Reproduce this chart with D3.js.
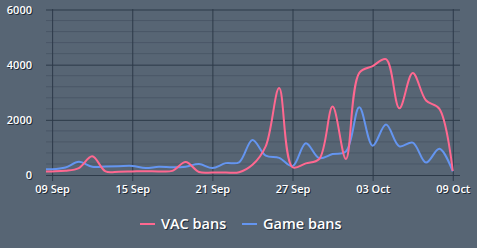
<!DOCTYPE html>
<html>
<head>
<meta charset="utf-8">
<script src="https://cdn.jsdelivr.net/npm/d3@7"></script>
<style>
  body { margin: 0; background: #576574; }
  text { font-family: "Open Sans", sans-serif; fill: #fff; text-shadow: 1px 1px 0 #1f2a36; }
</style>
</head>
<body>
<div id="chart-area"></div>
<script>
// daily values, first day is clipped at the left edge
var days = ["2023-09-08","2023-09-09","2023-09-10","2023-09-11","2023-09-12","2023-09-13","2023-09-14",
  "2023-09-15","2023-09-16","2023-09-17","2023-09-18","2023-09-19","2023-09-20","2023-09-21",
  "2023-09-22","2023-09-23","2023-09-24","2023-09-25","2023-09-26","2023-09-27","2023-09-28",
  "2023-09-29","2023-09-30","2023-10-01","2023-10-02","2023-10-03","2023-10-04","2023-10-05",
  "2023-10-06","2023-10-07","2023-10-08","2023-10-09"]
var vacBans = [130, 130, 150, 250, 680, 130, 120, 130, 140, 130, 150, 470, 110, 90, 90, 100,
  370, 1050, 3150, 280, 420, 580, 2480, 580, 3700, 3950, 4200, 2420, 3700, 2700, 2400, 150]
var gameBans = [230, 210, 270, 480, 300, 310, 320, 330, 250, 300, 280, 300, 400, 250, 430, 460,
  1270, 700, 620, 320, 1150, 610, 760, 850, 2460, 1060, 1830, 1040, 1175, 450, 950, 130]
var yTicks = [0, 2000, 4000, 6000]
var xTicks = ["2023-09-09","2023-09-15","2023-09-21","2023-09-27","2023-10-03","2023-10-09"]
var seriesNames = ["VAC bans", "Game bans"]
var colors = ["#ff6890", "#6495f0"]

var parse = d3.timeParse("%Y-%m-%d")
var dates = days.map(parse)

var svg = d3.select("#chart-area")
  .append("svg")
  .attr("width", 477)
  .attr("height", 248)

var x = d3.scaleTime()
  .domain([new Date(2023, 8, 8, 13), new Date(2023, 9, 9, 13)])
  .range([46, 460])

var y = d3.scaleLinear()
  .domain([0, 6000])
  .range([175, 9.5])

// minor horizontal grid
svg.append("g")
  .selectAll("line")
  .data(d3.range(0, 6001, 400).filter(function(v) { return v % 2000 != 0 }))
  .enter().append("line")
  .attr("x1", 46).attr("x2", 460)
  .attr("y1", function(d) { return y(d) }).attr("y2", function(d) { return y(d) })
  .attr("stroke", "#4a5767")
  .attr("stroke-width", 1)

// major grid
var yAxis = svg.append("g")
  .attr("transform", "translate(46,0)")
  .call(d3.axisLeft(y).tickValues(yTicks).tickSize(-414).tickPadding(14).tickFormat(d3.format("d")))
yAxis.select(".domain").remove()
yAxis.selectAll("line").attr("stroke", "#2d3a49")
yAxis.selectAll("text").attr("font-size", 11).attr("font-weight", 600)

var xAxis = svg.append("g")
  .attr("transform", "translate(0,181)")
  .call(d3.axisBottom(x).tickValues(xTicks.map(parse)).tickSize(-172).tickPadding(4).tickFormat(d3.timeFormat("%d %b")))
xAxis.select(".domain").remove()
xAxis.selectAll("line").attr("stroke", "#2d3a49")
xAxis.selectAll("text").attr("font-size", 11).attr("font-weight", 600)

svg.append("clipPath").attr("id", "clip")
  .append("rect").attr("x", 46).attr("y", 0).attr("width", 414).attr("height", 180)

var line = d3.line()
  .x(function(d, i) { return x(dates[i]) })
  .y(function(d) { return y(d) })
  .curve(d3.curveCatmullRom.alpha(0.5))

var plot = svg.append("g").attr("clip-path", "url(#clip)")
;[gameBans, vacBans].forEach(function(s, k) {
  plot.append("path")
    .attr("d", line(s))
    .attr("fill", "none")
    .attr("stroke", k == 0 ? colors[1] : colors[0])
    .attr("stroke-width", 2)
})

// legend
var legX = [140, 242]
seriesNames.forEach(function(name, i) {
  var g = svg.append("g").attr("transform", "translate(" + legX[i] + ",224)")
  g.append("line").attr("x1", 0).attr("x2", 15).attr("y1", 0).attr("y2", 0)
    .attr("stroke", colors[i]).attr("stroke-width", 2)
  g.append("text").attr("x", 21).attr("y", 5)
    .attr("font-size", 14.5).attr("font-weight", 600)
    .text(name)
})
</script>
</body>
</html>
